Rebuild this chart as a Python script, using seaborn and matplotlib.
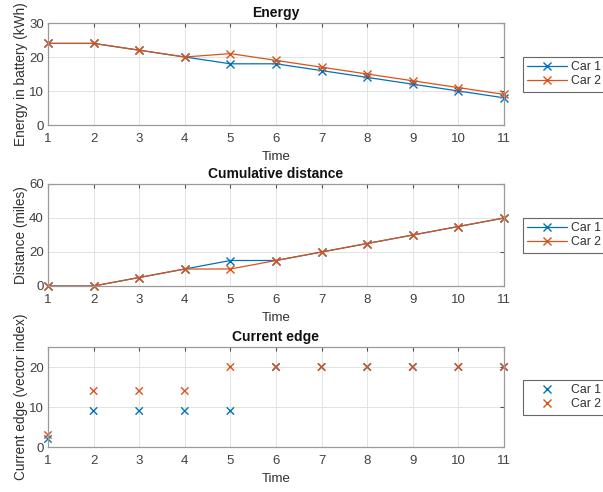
import numpy as np
import pandas as pd
import seaborn as sns
import matplotlib
matplotlib.use("Agg")
import matplotlib.pyplot as plt

time = list(range(1, 12))
cars = ["Car 1", "Car 2"]

energy_car1 = [24, 24, 22, 20, 18, 18, 16, 14, 12, 10, 8]
energy_car2 = [24, 24, 22, 20, 21, 19, 17, 15, 13, 11, 9]

distance_car1 = [0, 0, 5, 10, 15, 15, 20, 25, 30, 35, 40]
distance_car2 = [0, 0, 5, 10, 10, 15, 20, 25, 30, 35, 40]

edge_car1 = [2, 9, 9, 9, 9, 20, 20, 20, 20, 20, 20]
edge_car2 = [3, 14, 14, 14, 20, 20, 20, 20, 20, 20, 20]

palette = {"Car 1": "#0072BD", "Car 2": "#D95319"}


def long_frame(a, b):
    return pd.DataFrame({
        "Time": time * 2,
        "value": a + b,
        "car": ["Car 1"] * len(a) + ["Car 2"] * len(b),
    })


sns.set_style("white")
plt.rcParams["font.family"] = ["Liberation Sans", "DejaVu Sans"]
plt.rcParams["font.size"] = 9

fig = plt.figure(figsize=(6.03, 4.92), dpi=100)
W, H = 603.0, 492.0
# axes boxes in pixels: left, top, right, bottom
px = [(48, 23, 504, 125), (48, 184, 504, 286), (48, 347, 504, 447)]
boxes = [[l / W, 1 - b / H, (r - l) / W, (b - t) / H] for l, t, r, b in px]

panels = [
    ("Energy", "Energy in battery (kWh)", energy_car1, energy_car2,
     (0, 30), [0, 10, 20, 30], True),
    ("Cumulative distance", "Distance (miles)", distance_car1, distance_car2,
     (0, 60), [0, 20, 40, 60], True),
    ("Current edge", "Current edge (vector index)", edge_car1, edge_car2,
     (0, 25), [0, 10, 20], False),
]

for box, (title, ylabel, a, b, ylim, yticks, lines) in zip(boxes, panels):
    ax = fig.add_axes(box)
    df = long_frame(a, b)
    if lines:
        sns.lineplot(data=df, x="Time", y="value", hue="car",
                     palette=palette, marker="x", markersize=6,
                     markeredgewidth=1.0, linewidth=0.9, ax=ax)
        for ln, c in zip(ax.get_lines(), cars):
            ln.set_markeredgecolor(palette[c])
            ln.set_clip_on(False)
    else:
        sns.scatterplot(data=df, x="Time", y="value", hue="car",
                        palette=palette, marker="x", s=28,
                        linewidth=1.0, ax=ax)
        for coll in ax.collections:
            coll.set_clip_on(False)
    ax.set_xlim(1, 11)
    ax.set_ylim(*ylim)
    ax.set_xticks(time)
    ax.set_yticks(yticks)
    ax.grid(True, color="#e3e3e3", linewidth=0.7)
    ax.set_axisbelow(True)
    for s in ax.spines.values():
        s.set_color("#9a9a9a")
        s.set_linewidth(0.9)
        s.set_visible(True)
    ax.tick_params(axis="both", direction="in", length=3, color="#505050",
                   labelsize=9.5, labelcolor="#404040", top=True, right=True)
    ax.tick_params(axis="x", pad=6)
    ax.tick_params(axis="y", pad=3)
    ax.set_title(title, fontsize=10, fontweight="bold", pad=4,
                 color="#111111")
    ax.set_xlabel("Time", fontsize=9.5, labelpad=4, color="#303030")
    ax.set_ylabel(ylabel, fontsize=9.8, labelpad=1, color="#303030")
    handles, labels = ax.get_legend_handles_labels()
    leg = ax.legend(handles, labels, loc="center left",
                    bbox_to_anchor=(1.042, 0.5), frameon=True, fancybox=False,
                    edgecolor="#404040", fontsize=8.8, handlelength=3.2,
                    handletextpad=0.35, borderpad=0.35, labelspacing=0.2,
                    borderaxespad=0)
    leg.get_frame().set_linewidth(0.8)
    for t in leg.get_texts():
        t.set_color("#303030")
    for h, c in zip(leg.legend_handles, cars):
        if hasattr(h, "set_markeredgecolor"):
            h.set_markeredgecolor(palette[c])
            h.set_marker("x")
            h.set_markersize(6)
        else:
            h.set_edgecolor(palette[c])

fig.savefig("out.png", dpi=100)
